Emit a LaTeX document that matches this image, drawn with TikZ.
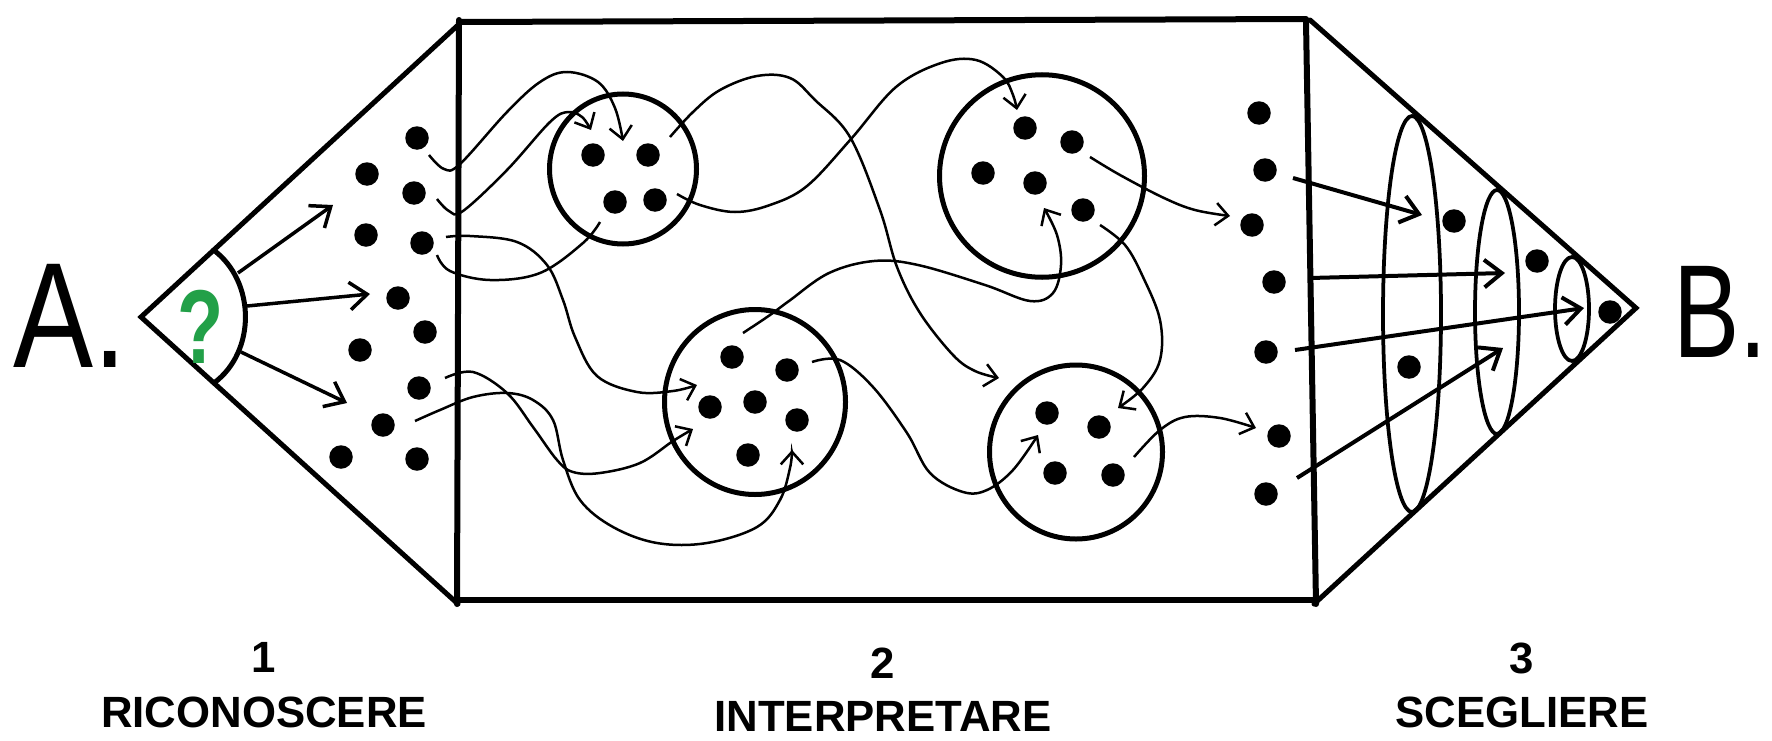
\documentclass[tikz,border=0pt]{standalone}
\usepackage{fontspec}
\setmainfont{Liberation Sans}
\usepackage{graphicx}
\usetikzlibrary{arrows.meta,shapes.geometric,calc}
\definecolor{qgreen}{RGB}{34,160,72}
\begin{document}
\begin{tikzpicture}[x=0.4pt,y=-0.4pt,
  wall/.style={line width=2.4pt,line cap=round,line join=round},
  edge/.style={line width=2pt,line cap=round},
  grp/.style={draw,ellipse,line width=2pt,inner sep=0pt},
  sel/.style={draw,ellipse,line width=1.5pt,inner sep=0pt},
  pt/.style={circle,fill=black,inner sep=0pt,minimum size=9.4pt},
  flow/.style={line width=1pt,-{Straight Barb[length=5pt,width=9pt]}},
  flowplain/.style={line width=1pt},
  bigarrow/.style={line width=1.4pt,-{Straight Barb[length=7pt,width=11pt]}},
  rarrow/.style={line width=1.6pt,-{Straight Barb[length=7pt,width=11pt]}},
  lab/.style={inner sep=0pt,font=\bfseries\fontsize{17.5}{20}\selectfont}
]
\fill[white] (0,0) rectangle (1772,740);
\useasboundingbox (0,0) rectangle (1772,740);

% ---------- frame ----------
\coordinate (Ltip) at (141,317);
\coordinate (Ltop) at (457,26);
\coordinate (Lbot) at (458,604);
\coordinate (Wtop) at (459,20);
\coordinate (Wbot) at (457,604);
\coordinate (Ttl) at (462,22);
\coordinate (Ttr) at (1306,19);
\coordinate (Bbl) at (456,600);
\coordinate (Bbr) at (1316,600);
\coordinate (RWtop) at (1306,22);
\coordinate (RWbot) at (1316,604);
\coordinate (Rtop) at (1310,20);
\coordinate (Rtip) at (1636,308);
\coordinate (Rbot) at (1314,604);

\draw[edge] (Ltop) -- (Ltip) -- (Lbot);
\draw[wall] (Wtop) -- (Wbot);
\draw[wall] (Ttl) -- (Ttr);
\draw[wall] (Bbl) -- (Bbr);
\draw[wall] (RWtop) -- (RWbot);
\draw[edge] (Rtop) -- (Rtip) -- (Rbot);

% ---------- A / B ----------
\node[anchor=base west,inner sep=0pt,font=\fontsize{60}{60}\selectfont] (A) at (13,367) {\scalebox{0.8}[1]{A.}};
\node[anchor=base west,inner sep=0pt,font=\fontsize{53}{53}\selectfont] (B) at (1673,357) {\scalebox{0.75}[1]{B.}};

% ---------- left triangle ----------
\coordinate (Atop) at ($(Ltip)!0.23!(Ltop)$);
\coordinate (Abot) at ($(Ltip)!0.23!(Lbot)$);
\draw[edge] (Atop) .. controls (256,282) and (256,352) .. (Abot);
\node[anchor=base,inner sep=0pt,text=qgreen,font=\bfseries\fontsize{42}{42}\selectfont] (Q) at (201,363) {\scalebox{0.72}[1]{?}};

\coordinate (ar1s) at (238,273); \coordinate (ar1e) at (333,205);
\coordinate (ar2s) at (247,306); \coordinate (ar2e) at (370,294);
\coordinate (ar3s) at (241,352); \coordinate (ar3e) at (347,403);
\draw[bigarrow] (ar1s) -- (ar1e);
\draw[bigarrow] (ar2s) -- (ar2e);
\draw[bigarrow] (ar3s) -- (ar3e);

\foreach \n/\x/\y in {1/417/138,2/367/174,3/414/193,4/366/235,5/422/243,6/398/298,7/425/332,8/360/350,9/419/388,10/383/425,11/341/457,12/417/459}
  \node[pt] (ld\n) at (\x,\y) {};

% ---------- groups ----------
\node[grp,minimum width=58.8pt,minimum height=60pt] (C1) at (623,169) {};
\node[grp,minimum width=82pt,minimum height=81pt] (C2) at (1042,176) {};
\node[grp,minimum width=72.4pt,minimum height=74pt] (C3) at (755,402) {};
\node[grp,minimum width=69.2pt,minimum height=69.6pt] (C4) at (1076,452) {};

\foreach \n/\x/\y in {1/593/155,2/648/155,3/615/202,4/655/200}
  \node[pt] (ca\n) at (\x,\y) {};
\foreach \n/\x/\y in {1/1025/128,2/1072/142,3/983/173,4/1035/183,5/1083/210}
  \node[pt] (cb\n) at (\x,\y) {};
\foreach \n/\x/\y in {1/732/357,2/787/370,3/710/407,4/755/402,5/797/420,6/748/455}
  \node[pt] (cc\n) at (\x,\y) {};
\foreach \n/\x/\y in {1/1047/413,2/1099/427,3/1055/473,4/1113/475}
  \node[pt] (cd\n) at (\x,\y) {};

% ---------- flows ----------
\coordinate (a0) at (429,155); \coordinate (a1) at (623,141);
\draw[flow] plot[smooth,tension=0.6] coordinates {(a0) (444,169) (460,164) (507,112) (540,82) (567,72) (598,82) (615,108) (a1)};
\coordinate (b0) at (437,199); \coordinate (b1) at (591,130);
\draw[flow] plot[smooth,tension=0.6] coordinates {(b0) (449,211) (463,211) (507,170) (550,122) (568,112) (582,117) (b1)};
\coordinate (c0) at (670,137); \coordinate (c1) at (999,378);
\draw[flow] plot[smooth,tension=0.6] coordinates {(c0) (693,112) (720,90) (757,76) (790,78) (815,100) (850,137) (880,210) (897,267) (920,313) (953,355) (975,371) (c1)};
\coordinate (d0) at (677,194); \coordinate (d1) at (1017,110);
\draw[flow] plot[smooth,tension=0.6] coordinates {(d0) (700,205) (735,212) (770,205) (807,186) (851,139) (896,87) (941,63) (976,60) (1003,77) (1013,95) (d1)};
\coordinate (e0) at (437,255); \coordinate (e1) at (600,222);
\draw[flowplain] plot[smooth,tension=0.6] coordinates {(e0) (450,271) (490,280) (540,273) (583,243) (e1)};
\coordinate (f0) at (446,237); \coordinate (f1) at (697,385);
\draw[flow] plot[smooth,tension=0.6] coordinates {(f0) (470,236) (517,242) (547,265) (563,300) (575,337) (597,376) (637,392) (673,391) (f1)};
\coordinate (g0) at (445,378); \coordinate (g1) at (693,429);
\draw[flow] plot[smooth,tension=0.6] coordinates {(g0) (473,372) (507,393) (533,427) (557,460) (573,472) (600,473) (640,463) (673,441) (g1)};
\coordinate (h0) at (415,421); \coordinate (h1) at (792,450);
\draw[flow] plot[smooth,tension=0.6] coordinates {(h0) (440,410) (473,397) (507,393) (533,400) (553,420) (563,460) (580,500) (613,527) (657,543) (707,543) (757,527) (780,500) (790,468) (h1)};
\coordinate (i0) at (743,333); \coordinate (i1) at (1044,208);
\draw[flow] plot[smooth,tension=0.6] coordinates {(i0) (770,315) (789,301) (829,273) (874,261) (918,265) (985,285) (1030,301) (1053,293) (1061,265) (1057,235) (i1)};
\coordinate (j0) at (812,362); \coordinate (j1) at (1038,435);
\draw[flow] plot[smooth,tension=0.6] coordinates {(j0) (840,360) (873,387) (907,433) (930,473) (963,492) (987,490) (1013,470) (j1)};
\coordinate (k0) at (1090,157); \coordinate (k1) at (1230,216);
\draw[flow] plot[smooth,tension=0.6] coordinates {(k0) (1120,175) (1164,198) (1195,210) (k1)};
\coordinate (l0) at (1100,225); \coordinate (l1) at (1118,408);
\draw[flow] plot[smooth,tension=0.6] coordinates {(l0) (1125,245) (1143,277) (1160,320) (1160,360) (1143,388) (l1)};
\coordinate (m0) at (1134,457); \coordinate (m1) at (1256,428);
\draw[flow] plot[smooth,tension=0.6] coordinates {(m0) (1160,430) (1185,417) (1220,418) (m1)};

% ---------- right column ----------
\foreach \n/\x/\y in {1/1259/113,2/1265/170,3/1252/225,4/1274/282,5/1266/352,6/1279/436,7/1266/494}
  \node[pt] (rc\n) at (\x,\y) {};

% ---------- right triangle ----------
\node[sel,minimum width=23.2pt,minimum height=158.4pt] (E1) at (1412,314) {};
\node[sel,minimum width=17.6pt,minimum height=97.6pt] (E2) at (1497,312) {};
\node[sel,minimum width=13.6pt,minimum height=41.6pt] (E3) at (1572,309) {};
\foreach \n/\x/\y in {1/1454/221,2/1537/261,3/1610/312,4/1409/367}
  \node[pt] (rt\n) at (\x,\y) {};
\coordinate (r1s) at (1293,178); \coordinate (r1e) at (1422,215);
\coordinate (r2s) at (1310,278); \coordinate (r2e) at (1505,273);
\coordinate (r3s) at (1295,350); \coordinate (r3e) at (1584,308);
\coordinate (r4s) at (1297,478); \coordinate (r4e) at (1503,348);
\draw[rarrow] (r1s) -- (r1e);
\draw[rarrow] (r2s) -- (r2e);
\draw[rarrow] (r3s) -- (r3e);
\draw[rarrow] (r4s) -- (r4e);

% ---------- labels ----------
\node[lab] (n1) at (264,657) {1};
\node[lab] (t1) at (264,712) {RICONOSCERE};
\node[lab] (n2) at (883,663) {2};
\node[lab] (t2) at (883,716) {INTERPRETARE};
\node[lab] (n3) at (1522,658) {3};
\node[lab] (t3) at (1522,712) {SCEGLIERE};
\end{tikzpicture}
\end{document}
